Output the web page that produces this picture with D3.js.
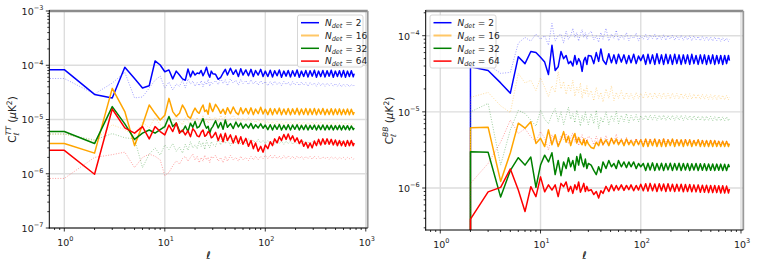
<!DOCTYPE html>
<html><head><meta charset="utf-8">
<script src="https://cdn.jsdelivr.net/npm/d3@7"></script>
<style>body{margin:0;background:#fff} svg{display:block;font-family:"DejaVu Sans",sans-serif}</style>
</head><body><svg id="c" width="758" height="268"></svg>
<script>
// values in units of 1e-6 (muK^2)
const UNIT = 1e-6;
const ellLow = [1,2,3,4,5,6,7,8,9,10,11,12,13,14,15,16,17,18,19,20,21,22,23,24,25,26,27,28,29,30];
const ellHigh = [32,34,36,38,40,42,45,48,51,54,57,60,64,68,72,76,80,85,90,95,100,106,112,118,124,131,138,145,153,161,169,178,187,197,207,218,229,241,253,266,279,293,308,323,339,356,374,393,412,432,453,475,498,522,547,573,600,628,657,687,718,750,767];
const detectors = [2,16,32,64];
const colors = ["#0000ff","#ffa500","#008000","#ff0000"];
const legendColors = ["#0000ff","#ffc766","#008000","#ff0000"];

// TT spectra (solid = s, dotted = d)
const TT_s2 = [83,29,25,92,57,38,42,120,101,76,82,56,78,66,56,53,85,61,78,66,72,70,80,64,75,92,70,60,78,70,
 68,55,60,72,84,66,88,68,82,62, 86,66,82,64,84,62,80,66,84,62,
 78,62,81,61,79,64,82,60,78,63, 80,61,79,63,82,60,78,62,80,61, 79,63,81,60,78,62,80,61,79,63, 81,60,78,62,79,61,80,60,78,62, 79,61,70];
const TT_d2 = [57,29.5,47,74,25,26,38,53,63,38,49,35,45,41,53,38,56,45,51,41,48,42,52,40,50,44,55,41,49,46,
 52,44,58,46,54,42,56,47,53,43, 55,46,52,44,54,45,51,43,52,45, 50,42,50,43,51,44,49,42,50,44,
 49,42,50,43,48,42,49,43,48,41, 48,43,47,41,48,42,47,41,47,42, 46,41,46,41,46,40,45,41,45,40, 44,41,43];
const TT_s16 = [3.6,2.4,37.5,14,3.3,7.9,18.5,13,9.8,12,24.5,14,11.4,13,18.5,15,11.4,10.5,13.5,16.2,14,13,16,18.5,14,15,12.5,20,16,14,
 19,16,13,15.5,12.5,16.5,12.8,17,13.5,12.3, 16.5,12.8,16,12.6,16.4,12.3,15.6,12.8,16.8,12.6,
 15.5,12.3,16,12.2,15.8,12.6,16.2,12.2,15.6,12.4, 16,12.2,15.7,12.5,16.1,12.2,15.6,12.4,16,12.2, 15.7,12.4,15.9,12.2,15.6,12.5,15.9,12.2,15.5,12.4, 15.8,12.2,15.6,12.4,15.7,12.2,15.5,12.4,15.6,12.2, 15.4,12.4,13.8];
const TT_d16 = [5.4,4.0,8,6.5,5.0,9,7,11,8,7,10,8.5,12,9,8,11,9.5,8,10.5,9,11,8.5,10,12,9,10.5,8.5,11,9.5,10,
 11,9,12,9.5,11.5,9,10.5,12,9.5,11, 9,10.5,9.2,11,9,10,8.8,10.2,8.6,9.8, 8.5,9.4,8,9.2,7.9,9.3,8,9.1,7.9,9.2,
 8.1,9,7.9,9.1,8,9,7.8,9,8,8.9, 7.9,9,8,8.9,7.8,8.9,8,8.8,7.9,8.9, 8,8.8,7.9,8.8,8,8.7,7.9,8.7,8,8.6, 7.9,8.5,8.2];
const TT_s32 = [6.0,3.6,17.3,8.3,4.3,5.6,6.4,5.6,6.5,7.4,11.4,7.4,8.6,6.1,6.0,7.6,6.0,8.5,7.2,9.2,7.0,7.4,8.8,10.4,8.0,6.9,7.5,5.6,6.8,7.4,
 9.5,7,8.8,6.6,9.8,7.2,8.4,6.8,9,7.3, 8.6,6.9,8.2,7,8.5,6.8,8,7,8.3,6.9,
 7.9,6.5,8.0,6.4,7.9,6.6,8.1,6.4,7.8,6.5, 8.0,6.4,7.9,6.6,8.0,6.4,7.8,6.5,7.9,6.4, 7.8,6.6,7.9,6.4,7.8,6.5,7.9,6.4,7.8,6.5, 7.8,6.4,7.7,6.5,7.8,6.4,7.7,6.5,7.7,6.4, 7.6,6.5,7.0];
const TT_d32 = [5.4,4.2,5.5,4.6,4.4,1.3,2.3,3.0,2.2,3.4,2.8,3.6,2.6,3.1,2.4,3.5,2.7,3.9,3.0,3.4,2.9,4.0,3.2,3.8,2.8,4.1,3.4,3.0,3.9,3.5,
 3.2,4.4,3.4,4.8,3.6,4.3,3.3,4.5,3.7,4.4, 3.5,4.2,3.6,4.4,3.7,4.2,3.6,4.3,3.7,4.1, 3.6,4.1,3.6,4.0,3.5,4.1,3.6,4.0,3.5,4.0,
 3.6,4.0,3.5,4.0,3.6,3.9,3.5,4.0,3.6,3.9, 3.5,3.9,3.6,3.9,3.5,3.9,3.6,3.9,3.5,3.9, 3.6,3.9,3.5,3.8,3.6,3.9,3.5,3.8,3.6,3.8, 3.5,3.8,3.7];
const TT_s64 = [2.7,0.98,15.6,7.0,5.6,7.4,4.4,7.4,6.0,5.2,7.9,6.0,8.6,5.6,6.4,5.2,6.2,4.8,6.8,6.0,5.0,4.8,5.8,6.4,4.9,5.2,6.0,5.6,4.6,4.8,
 5.8,4.1,5.4,3.9,5.6,4.1,5.2,3.7,5.0,3.6, 4.8,3.5,4.5,3.2,4.1,2.9,3.7,2.6,3.2,2.5,
 3.4,2.9,3.9,3.3,4.4,3.7,4.8,4.1,5.3,4.3, 5.4,4.2,5.0,3.9,4.6,3.6,4.2,3.2,3.8,3.0, 3.7,3.0,4.0,3.3,4.3,3.4,4.4,3.5,4.4,3.5, 4.3,3.4,4.2,3.3,4.1,3.3,4.0,3.2,4.1,3.3, 4.1,3.3,3.7];
const TT_d64 = [0.82,2.0,2.25,2.5,1.3,2.0,2.3,2.1,1.8,0.92,1.06,1.4,1.74,1.5,1.9,2.1,1.7,2.0,2.3,1.8,2.1,1.6,2.0,1.7,2.2,1.8,2.0,1.6,2.1,1.9,
 2.2,1.7,2.0,1.6,2.1,1.7,2.2,1.8,2.0,1.7, 2.1,1.8,2.0,1.75,2.1,1.8,2.1,1.8,2.1,1.9, 2.2,1.9,2.2,1.9,2.2,1.9,2.1,1.85,2.15,1.9,
 2.15,1.9,2.1,1.85,2.1,1.9,2.1,1.85,2.1,1.9, 2.1,1.85,2.1,1.9,2.05,1.85,2.05,1.9,2.05,1.85, 2.05,1.9,2.0,1.85,2.0,1.9,2.0,1.85,2.0,1.9, 2.0,1.85,1.95];

// BB spectra (l=1 is zero)
const BB_s2 = [0,39,35,24,17.6,53,43,62,60,52,45,31,75,35,39,62,50,55,43,46,40,55,42,50,45,34,47,52,42,55,
 54,43,60,46,67,48,42,58,44,56, 43,57,45,56,43,55,44,57,43,54,
 47,56,42,57,43,56,42,58,43,56, 42,57,43,56,42,57,43,56,42,56, 43,56,42,57,43,55,42,56,43,56, 42,55,43,56,42,55,43,55,42,55, 43,55,47];
const BB_d2 = [0,45,42,32,33,80,95,85,105,90,100,75,145,85,100,105,80,115,90,100,125,95,110,85,105,120,95,110,90,105,
 115,88,100,82,110,90,125,85,105,92, 118,86,102,90,110,86,100,92,108,85, 100,90,104,88,102,91,105,88,101,89,
 103,87,101,90,102,87,100,89,101,87, 99,88,100,86,99,88,98,86,98,87, 97,86,96,85,96,86,95,84,94,85, 93,84,89];
const BB_s16 = [0,6.2,6.3,1.22,2.9,7.1,6.1,7.4,3.85,4.5,3.5,5.8,3.7,5.0,3.5,4.3,5.5,4.0,4.8,3.6,4.5,5.2,3.9,4.6,4.0,3.7,4.4,3.6,4.2,3.8,
 3.4,3.3,4.0,3.6,4.4,3.7,4.3,3.6,4.5,3.8, 4.4,3.7,4.3,3.6,4.4,3.7,4.2,3.6,4.3,3.7,
 4.3,3.5,4.4,3.5,4.3,3.6,4.4,3.5,4.3,3.5, 4.4,3.5,4.3,3.6,4.4,3.5,4.3,3.6,4.3,3.5, 4.3,3.6,4.3,3.5,4.2,3.6,4.3,3.5,4.2,3.5, 4.2,3.5,4.2,3.5,4.2,3.5,4.1,3.5,4.1,3.5, 4.1,3.5,3.8];
const BB_d16 = [0,15.5,18,12,9.8,32,24,26,19,28,21,15.8,22,18,34,20,25,17,23,19,26,16,21,18,24,15,20,17,22,16,
 19,14,21,15,18,13.5,20,15,22,14, 18,15,19,14.5,18,15,17.5,14.5,18,15, 17.5,15,18,15.2,17.8,14.9,17.9,15.1,17.6,14.9,
 17.8,15,17.5,14.8,17.6,15,17.4,14.8,17.5,14.9, 17.3,14.8,17.3,14.7,17.2,14.8,17.1,14.6,17,14.7, 16.9,14.5,16.8,14.6,16.7,14.4,16.6,14.5,16.5,14.4, 16.4,14.4,15.5];
const BB_s32 = [0,3.0,2.95,0.76,1.7,2.5,2.0,2.55,1.02,2.0,2.7,2.2,2.9,1.5,2.3,1.45,2.2,1.8,2.5,1.9,2.3,1.7,2.6,2.0,2.8,2.2,1.9,2.4,1.8,2.1,
 2.0,1.7,1.5,1.9,1.6,2.2,1.8,2.3,1.9,2.1, 1.8,2.3,1.9,2.2,1.85,2.2,1.9,2.2,1.8,2.1,
 1.9,2.1,1.7,2.12,1.72,2.14,1.7,2.1,1.72,2.12, 1.7,2.1,1.73,2.12,1.7,2.1,1.72,2.12,1.7,2.1, 1.72,2.1,1.7,2.08,1.72,2.1,1.7,2.08,1.71,2.08, 1.7,2.07,1.71,2.07,1.7,2.06,1.71,2.06,1.7,2.05, 1.7,2.04,1.87];
const BB_d32 = [0,10,12.9,2.0,5.8,10.5,9.5,7.8,6.5,10.5,8,7,9.2,11,7.5,10,6.8,9,11.5,8,9.5,7.2,10.5,8.5,6.5,9,7.5,10,8,6.8,
 9.5,7,10.5,6,8.5,7.2,10,6.8,9,7.5, 10.2,7,9,7.4,9.5,7.2,9,7.6,9.2,7.4, 8.9,7.8,9,7.7,9.1,7.8,9,7.7,9,7.8,
 9.1,7.7,8.9,7.8,9,7.7,8.9,7.8,9,7.7, 8.9,7.8,8.9,7.7,8.9,7.7,8.8,7.7,8.8,7.6, 8.8,7.7,8.7,7.6,8.7,7.6,8.7,7.6,8.6,7.6, 8.6,7.6,8.2];
const BB_s64 = [0,0.39,0.89,1.02,1.78,0.94,0.49,1.04,0.77,1.4,0.89,1.1,0.94,1.1,0.77,1.15,1.04,1.2,0.9,1.05,0.85,1.1,0.95,1.2,0.88,1.0,1.15,0.9,1.05,0.92,
 0.95,0.82,0.9,0.74,0.92,0.85,1.05,0.9,1.1,0.92, 1.08,0.94,1.1,0.93,1.08,0.95,1.1,0.92,1.08,0.94,
 1.12,0.92,1.14,0.91,1.15,0.92,1.13,0.9,1.14,0.92, 1.13,0.9,1.14,0.91,1.12,0.9,1.12,0.91,1.12,0.89, 1.11,0.9,1.11,0.89,1.1,0.89,1.1,0.88,1.09,0.88, 1.09,0.87,1.08,0.87,1.08,0.87,1.07,0.86,1.07,0.86, 1.06,0.86,0.97];
const BB_d64 = [0,1.15,2.1,4.0,7.8,5.2,6.0,4.7,4.1,5.5,4.5,3.15,5.0,4.2,3.7,4.8,4.3,5.2,3.8,4.6,5.3,4.0,4.7,3.6,4.4,5.0,3.9,4.5,4.1,4.8,
 4.5,3.7,4.8,3.9,4.6,3.6,4.9,3.8,4.5,3.9, 5.1,3.8,4.5,3.8,4.6,3.8,4.4,3.9,4.5,3.8, 4.4,3.8,4.4,3.8,4.5,3.9,4.4,3.8,4.4,3.8,
 4.5,3.8,4.4,3.9,4.4,3.8,4.4,3.8,4.3,3.8, 4.4,3.8,4.3,3.8,4.3,3.8,4.3,3.7,4.3,3.8, 4.2,3.7,4.3,3.8,4.2,3.7,4.2,3.7,4.2,3.7, 4.1,3.7,4.0];

const xTickVals = [1,10,100,1000];
const yTicksTT = [1e-7,1e-6,1e-5,1e-4,1e-3];
const yTicksBB = [1e-6,1e-5,1e-4];

const ell = ellLow.concat(ellHigh);
const svg = d3.select("#c");

function panel(cfg, idx){
  const x = d3.scaleLog().domain(cfg.xDomain).range(cfg.xRange);
  const y = d3.scaleLog().domain(cfg.yDomain).range(cfg.yRange);
  const g = svg.append("g");
  const [x0,x1] = cfg.xRange, [yb,yt] = cfg.yRange;
  const clipId = "clip"+idx;
  svg.append("defs").append("clipPath").attr("id",clipId)
    .append("rect").attr("x",x0).attr("y",yt).attr("width",x1-x0).attr("height",yb-yt);

  // grid
  const grid = g.append("g").attr("stroke","#dddddd").attr("stroke-width",1.4);
  xTickVals.forEach(t=>{ if (x(t)>=x0 && x(t)<=x1) grid.append("line").attr("x1",x(t)).attr("x2",x(t)).attr("y1",yt).attr("y2",yb);});
  cfg.yTicks.forEach(t=>{ grid.append("line").attr("x1",x0).attr("x2",x1).attr("y1",y(t)).attr("y2",y(t));});

  // data
  const lines = g.append("g").attr("clip-path",`url(#${clipId})`);
  const lineGen = d3.line().x(d=>d[0]).y(d=>d[1]);
  function pts(vals){
    const p = [];
    vals.forEach((v,i)=>{
      if (v<=0) return;
      p.push([x(ell[i]), y(v*UNIT)]);
    });
    if (cfg.mode==="TT") p.unshift([x0-2, y(vals[0]*UNIT)]);
    else { p.unshift([x(ell[vals.findIndex(v=>v>0)]), yb+5]); }
    return p;
  }
  cfg.solid.forEach((s,k)=>{
    lines.append("path").attr("d",lineGen(pts(cfg.dotted[k]))).attr("fill","none")
      .attr("stroke",colors[k]).attr("stroke-width",1).attr("stroke-dasharray","1,1.6").attr("opacity",0.38);
    lines.append("path").attr("d",lineGen(pts(s))).attr("fill","none")
      .attr("stroke",colors[k]).attr("stroke-width",1.5).attr("stroke-linejoin","round");
  });

  // spines
  g.append("line").attr("x1",x0).attr("x2",x1).attr("y1",yt).attr("y2",yt).attr("stroke","#8c8c8c").attr("stroke-width",2.4);
  g.append("line").attr("x1",x1).attr("x2",x1).attr("y1",yt).attr("y2",yb).attr("stroke","#9a9a9a").attr("stroke-width",1.8);
  g.append("line").attr("x1",x0).attr("x2",x0).attr("y1",yt-1).attr("y2",yb+0.5).attr("stroke","#000").attr("stroke-width",1);
  g.append("line").attr("x1",x0-0.5).attr("x2",x1).attr("y1",yb).attr("y2",yb).attr("stroke","#000").attr("stroke-width",1);

  // ticks
  const tk = g.append("g").attr("stroke","#000").attr("stroke-width",0.8);
  const minor = (dom)=>{ const out=[]; for(let e=Math.floor(Math.log10(dom[0]));e<=Math.ceil(Math.log10(dom[1]));e++){ for(let m=2;m<=9;m++){const v=m*Math.pow(10,e); if(v>=Math.min(...dom)&&v<=Math.max(...dom)) out.push(v);} } return out; };
  xTickVals.forEach(t=>{ if (x(t)>=x0-0.1 && x(t)<=x1+0.1) tk.append("line").attr("x1",x(t)).attr("x2",x(t)).attr("y1",yb).attr("y2",yb+3.5);});
  minor(cfg.xDomain).forEach(t=> tk.append("line").attr("x1",x(t)).attr("x2",x(t)).attr("y1",yb).attr("y2",yb+2));
  cfg.yTicks.forEach(t=> tk.append("line").attr("x1",x0).attr("x2",x0-3.5).attr("y1",y(t)).attr("y2",y(t)));
  minor(cfg.yDomain).forEach(t=> tk.append("line").attr("x1",x0).attr("x2",x0-2).attr("y1",y(t)).attr("y2",y(t)));

  // tick labels
  xTickVals.forEach(t=>{
    const tx = g.append("text").attr("x",x(t)+1).attr("y",yb+17.5).attr("text-anchor","middle")
      .attr("font-size",9.5).attr("fill","#222");
    tx.append("tspan").text("10");
    tx.append("tspan").attr("font-size",6.5).attr("dy",-4.5).text(String(Math.round(Math.log10(t))));
  });
  cfg.yTicks.forEach(t=>{
    const tx = g.append("text").attr("x",x0-6).attr("y",y(t)+3.8).attr("text-anchor","end")
      .attr("font-size",9.5).attr("fill","#222");
    tx.append("tspan").text("10");
    tx.append("tspan").attr("font-size",6.5).attr("dy",-4.5).text("\u2212"+Math.abs(Math.round(Math.log10(t))));
  });

  // axis labels
  g.append("text").attr("x",(x0+x1)/2).attr("y",259).attr("text-anchor","middle")
    .attr("font-size",10.5).attr("font-style","italic").text("\u2113");
  const yl = g.append("text").attr("transform",`translate(${cfg.ylabelX},${(yt+yb)/2}) rotate(-90)`)
    .attr("text-anchor","middle").attr("font-size",10.5).attr("fill","#222");
  yl.append("tspan").text("C");
  yl.append("tspan").attr("font-size",7.5).attr("font-style","italic").attr("dy",2.5).text("\u2113");
  yl.append("tspan").attr("font-size",7.5).attr("font-style","italic").attr("dx",-3).attr("dy",-7.5).text(cfg.spec);
  yl.append("tspan").attr("dy",5).text(" (");
  yl.append("tspan").attr("font-style","italic").text("\u03bc");
  yl.append("tspan").text("K");
  yl.append("tspan").attr("font-size",7.5).attr("dy",-4.5).text("2");
  yl.append("tspan").attr("dy",4.5).text(")");

  // legend
  const L = cfg.legend;
  const lg = g.append("g");
  lg.append("rect").attr("x",L.x).attr("y",L.y).attr("width",L.w).attr("height",L.h).attr("rx",2)
    .attr("fill","#fff").attr("fill-opacity",0.85).attr("stroke","#cccccc").attr("stroke-width",0.8);
  detectors.forEach((n,k)=>{
    const ry = L.y + 7.7 + k*12.8;
    lg.append("line").attr("x1",L.x+3.5).attr("x2",L.x+21.5).attr("y1",ry).attr("y2",ry)
      .attr("stroke",legendColors[k]).attr("stroke-width",k===1?2:1.5);
    const t = lg.append("text").attr("x",L.x+27.5).attr("y",ry+3.2).attr("font-size",9).attr("fill","#222");
    t.append("tspan").attr("font-style","italic").text("N");
    t.append("tspan").attr("font-style","italic").attr("font-size",6.5).attr("dy",2).text("det");
    t.append("tspan").attr("dy",-2).text(" = "+n);
  });
}

panel({mode:"TT", xDomain:[Math.pow(10,-0.1493),Math.pow(10,3.019)], xRange:[49.3,367.7],
  yDomain:[1e-7,1e-3], yRange:[228,11], yTicks:yTicksTT, spec:"TT", ylabelX:16,
  solid:[TT_s2,TT_s16,TT_s32,TT_s64], dotted:[TT_d2,TT_d16,TT_d32,TT_d64],
  legend:{x:297.5,y:15,w:65.5,h:52}}, 0);
panel({mode:"BB", xDomain:[Math.pow(10,-0.1456),Math.pow(10,3.023)], xRange:[425.7,743.3],
  yDomain:[Math.pow(10,-6.5515),Math.pow(10,-3.6756)], yRange:[230,11], yTicks:yTicksBB, spec:"BB", ylabelX:393,
  solid:[BB_s2,BB_s16,BB_s32,BB_s64], dotted:[BB_d2,BB_d16,BB_d32,BB_d64],
  legend:{x:430,y:15,w:66,h:53}}, 1);
</script></body></html>
